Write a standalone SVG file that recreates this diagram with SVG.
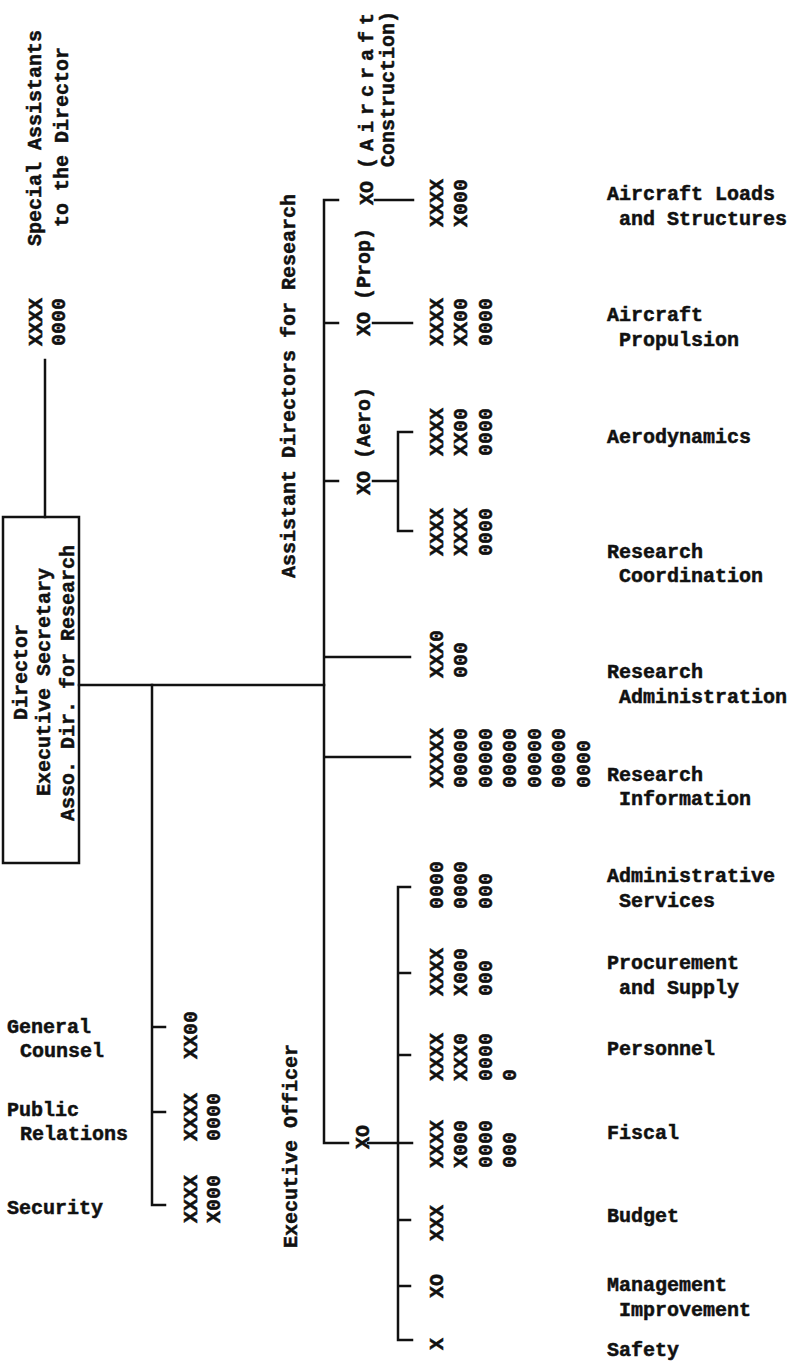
<svg xmlns="http://www.w3.org/2000/svg" width="793" height="1361" viewBox="0 0 793 1361">
<style>
.t{font-family:"Liberation Mono","DejaVu Sans Mono",monospace;font-weight:bold;font-size:20px;fill:#111;stroke:#111;stroke-width:0.5}
.m{text-anchor:middle}
.ln{stroke:#111;stroke-width:2.5;fill:none;stroke-linecap:square}
</style>
<rect width="793" height="1361" fill="#fff"/>
<g id="connectors" class="ln">
<path d="M45 360V517"/>
<path d="M79 685H324"/>
<path d="M165 1027H152V1205H165M152 1112H165M152 685V1027"/>
<path d="M338 200H324V1143H348M324 323H338M324 481H338M324 657H410M324 757H410"/>
<path d="M375 200H413"/>
<path d="M373 323H412"/>
<path d="M373 481H398M412 432H398V531H412"/>
<path d="M368 1143H412M410 887H398V1340H412M398 973H410M398 1055H410M398 1220H410M398 1286H410"/>
</g>
<g id="director">
<rect x="3" y="517" width="76" height="346" class="ln"/>
<text class="t m" transform="translate(27,672) rotate(-90)">Director</text>
<text class="t m" transform="translate(50,682) rotate(-90)">Executive Secretary</text>
<text class="t m" transform="translate(74,683) rotate(-90)">Asso. Dir. for Research</text>
</g>
<g id="special-assistants">
<text class="t m" transform="translate(41,138) rotate(-90)">Special Assistants</text>
<text class="t m" transform="translate(68,137) rotate(-90)">to the Director</text>
<text class="t" transform="translate(42,346) rotate(-90)">XXXX</text>
<text class="t" transform="translate(65,346) rotate(-90)">0000</text>
</g>
<g id="assistant-directors">
<text class="t m" transform="translate(295,386) rotate(-90)">Assistant Directors for Research</text>
</g>
<g id="xo-construction">
<text class="t" transform="translate(373,205) rotate(-90)">XO <tspan letter-spacing="6">(Aircraft</tspan></text>
<text class="t" transform="translate(394,167) rotate(-90)">Construction)</text>
</g>
<g id="xo-prop">
<text class="t" transform="translate(370,336) rotate(-90)">XO (Prop)</text>
</g>
<g id="xo-aero">
<text class="t" transform="translate(370,495) rotate(-90)">XO (Aero)</text>
</g>
<g id="executive-officer">
<text class="t m" transform="translate(297,1146) rotate(-90)">Executive Officer</text>
<text class="t" transform="translate(369,1149) rotate(-90)">XO</text>
</g>
<g id="loads">
<text class="t" transform="translate(443,227) rotate(-90)">XXXX</text>
<text class="t" transform="translate(467,227) rotate(-90)">X000</text>
<text class="t" x="607" y="200">Aircraft Loads</text>
<text class="t" x="619" y="225">and Structures</text>
</g>
<g id="propulsion">
<text class="t" transform="translate(443,346) rotate(-90)">XXXX</text>
<text class="t" transform="translate(467,346) rotate(-90)">XX00</text>
<text class="t" transform="translate(492,346) rotate(-90)">0000</text>
<text class="t" x="607" y="321">Aircraft</text>
<text class="t" x="619" y="346">Propulsion</text>
</g>
<g id="aerodynamics">
<text class="t" transform="translate(443,456) rotate(-90)">XXXX</text>
<text class="t" transform="translate(467,456) rotate(-90)">XX00</text>
<text class="t" transform="translate(492,456) rotate(-90)">0000</text>
<text class="t" x="607" y="443">Aerodynamics</text>
</g>
<g id="coordination">
<text class="t" transform="translate(443,556) rotate(-90)">XXXX</text>
<text class="t" transform="translate(467,556) rotate(-90)">XXXX</text>
<text class="t" transform="translate(492,556) rotate(-90)">0000</text>
<text class="t" x="607" y="558">Research</text>
<text class="t" x="619" y="582">Coordination</text>
</g>
<g id="res-admin">
<text class="t" transform="translate(443,678) rotate(-90)">XXX0</text>
<text class="t" transform="translate(467,678) rotate(-90)">000</text>
<text class="t" x="607" y="678">Research</text>
<text class="t" x="619" y="703">Administration</text>
</g>
<g id="res-info">
<text class="t" transform="translate(443,788) rotate(-90)">XXXXX</text>
<text class="t" transform="translate(467,788) rotate(-90)">00000</text>
<text class="t" transform="translate(492,788) rotate(-90)">00000</text>
<text class="t" transform="translate(516,788) rotate(-90)">00000</text>
<text class="t" transform="translate(541,788) rotate(-90)">00000</text>
<text class="t" transform="translate(565,788) rotate(-90)">00000</text>
<text class="t" transform="translate(590,788) rotate(-90)">0000</text>
<text class="t" x="607" y="781">Research</text>
<text class="t" x="619" y="805">Information</text>
</g>
<g id="admin-services">
<text class="t" transform="translate(443,909) rotate(-90)">0000</text>
<text class="t" transform="translate(467,909) rotate(-90)">0000</text>
<text class="t" transform="translate(492,909) rotate(-90)">000</text>
<text class="t" x="607" y="882">Administrative</text>
<text class="t" x="619" y="907">Services</text>
</g>
<g id="procurement">
<text class="t" transform="translate(443,996) rotate(-90)">XXXX</text>
<text class="t" transform="translate(467,996) rotate(-90)">X000</text>
<text class="t" transform="translate(492,996) rotate(-90)">000</text>
<text class="t" x="607" y="969">Procurement</text>
<text class="t" x="619" y="994">and Supply</text>
</g>
<g id="personnel">
<text class="t" transform="translate(443,1081) rotate(-90)">XXXX</text>
<text class="t" transform="translate(467,1081) rotate(-90)">XXX0</text>
<text class="t" transform="translate(492,1081) rotate(-90)">0000</text>
<text class="t" transform="translate(516,1081) rotate(-90)">0</text>
<text class="t" x="607" y="1055">Personnel</text>
</g>
<g id="fiscal">
<text class="t" transform="translate(443,1168) rotate(-90)">XXXX</text>
<text class="t" transform="translate(467,1168) rotate(-90)">X000</text>
<text class="t" transform="translate(492,1168) rotate(-90)">0000</text>
<text class="t" transform="translate(516,1168) rotate(-90)">000</text>
<text class="t" x="607" y="1139">Fiscal</text>
</g>
<g id="budget">
<text class="t" transform="translate(443,1241) rotate(-90)">XXX</text>
<text class="t" x="607" y="1222">Budget</text>
</g>
<g id="management">
<text class="t" transform="translate(443,1298) rotate(-90)">XO</text>
<text class="t" x="607" y="1291">Management</text>
<text class="t" x="619" y="1316">Improvement</text>
</g>
<g id="safety">
<text class="t" transform="translate(443,1350) rotate(-90)">X</text>
<text class="t" x="607" y="1356">Safety</text>
</g>
<g id="general-counsel">
<text class="t" transform="translate(197,1059) rotate(-90)">XX00</text>
<text class="t" x="7" y="1033">General</text>
<text class="t" x="20" y="1057">Counsel</text>
</g>
<g id="public-relations">
<text class="t" transform="translate(197,1141) rotate(-90)">XXXX</text>
<text class="t" transform="translate(220,1141) rotate(-90)">0000</text>
<text class="t" x="7" y="1116">Public</text>
<text class="t" x="20" y="1140">Relations</text>
</g>
<g id="security">
<text class="t" transform="translate(197,1223) rotate(-90)">XXXX</text>
<text class="t" transform="translate(220,1223) rotate(-90)">X000</text>
<text class="t" x="7" y="1214">Security</text>
</g>
</svg>
